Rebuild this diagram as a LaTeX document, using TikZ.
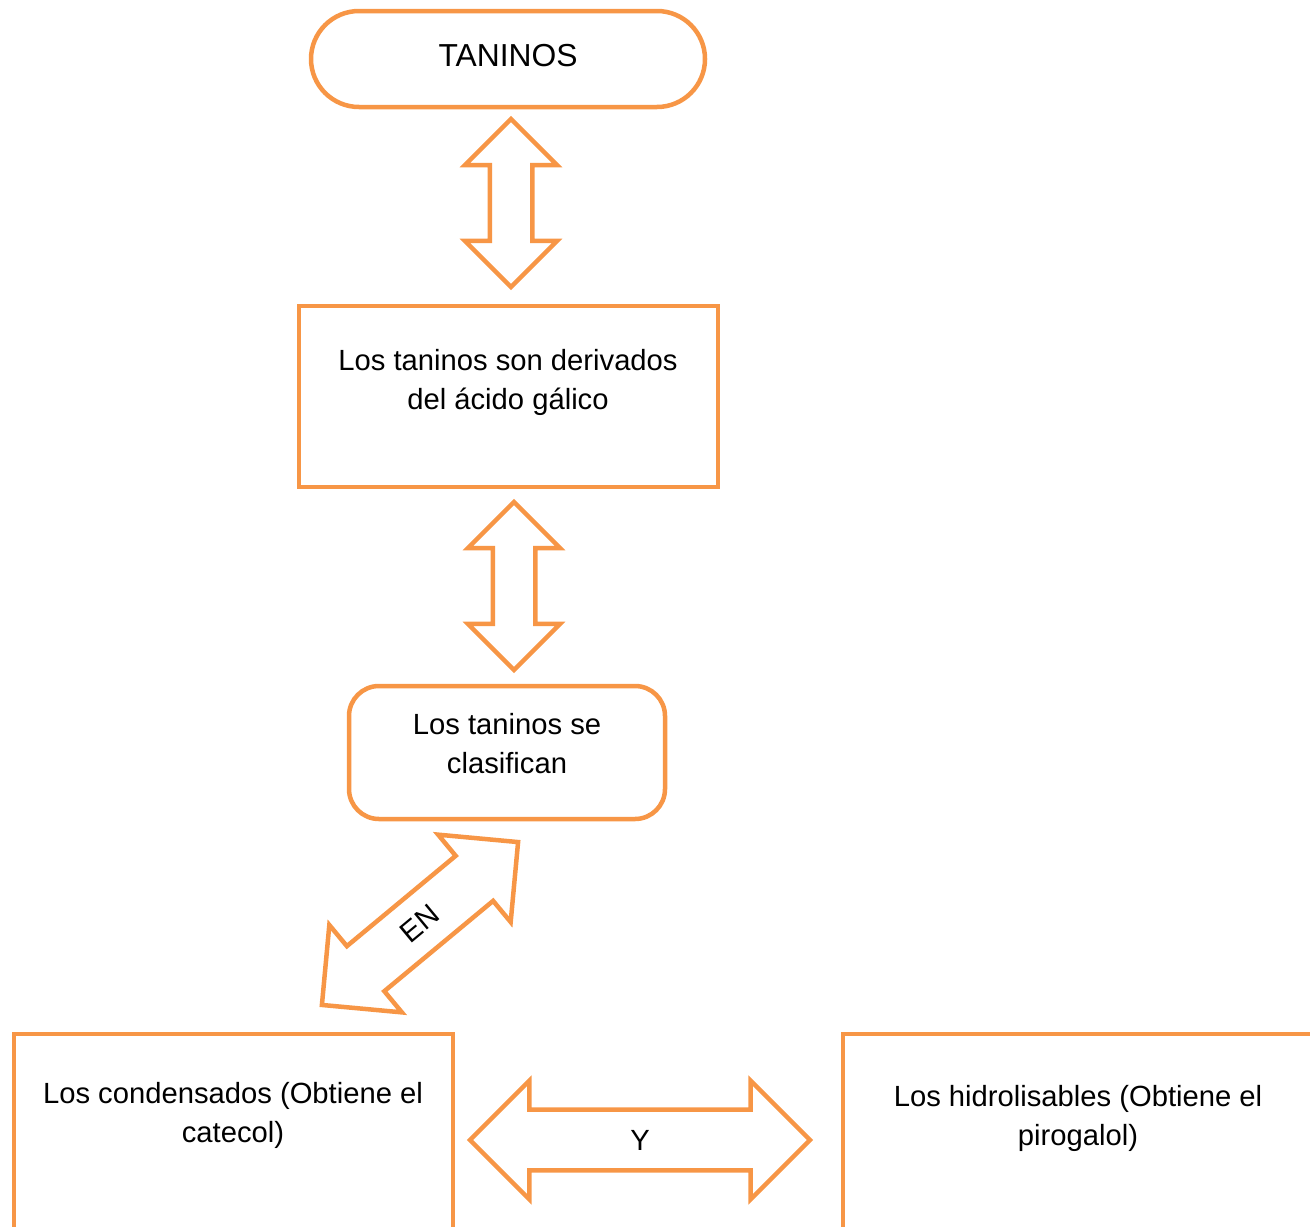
\documentclass[tikz,border=0pt]{standalone}
\usepackage{fontspec}
\setmainfont{Liberation Sans}
\usetikzlibrary{shapes, arrows, positioning, calc}

\definecolor{tanorange}{HTML}{F79646}

\begin{document}
\begin{tikzpicture}[x=0.5pt, y=-0.5pt,
    every node/.style={font=\fontsize{14.6}{19.5}\selectfont},
    box/.style={draw=tanorange, line width=2.25pt, fill=white, inner sep=0pt},
    txt/.style={align=center, inner sep=0pt},
    dblarrow/.style={double arrow, double arrow tip angle=90, draw=tanorange,
        line width=2.25pt, fill=white, inner xsep=0pt, double arrow head extend=#1}
  ]
    \clip (0,0) rectangle (1310,1226);

    % Boxes
    \node[box, rounded corners=24pt, minimum width=197pt, minimum height=48pt] (taninos) at (508,59) {};
    \node[txt, font=\fontsize{15.9}{19.5}\selectfont] (taninostxt) at (508,56) {TANINOS};

    \node[box, minimum width=209.5pt, minimum height=90.5pt] (deriv) at (508.5,396.5) {};
    \node[txt] (derivtxt) at (508,382) {Los taninos son derivados\\del ácido gálico};

    \node[box, rounded corners=15pt, minimum width=158pt, minimum height=66.5pt] (clasif) at (507,752.5) {};
    \node[txt] (clasiftxt) at (507,743.5) {Los taninos se\\clasifican};

    \node[box, minimum width=219.5pt, minimum height=115pt] (condens) at (233.5,1149) {};
    \node[txt] (condenstxt) at (233,1115) {Los condensados (Obtiene el\\catecol)};

    \node[box, minimum width=235pt, minimum height=115pt] (hidro) at (1078,1149) {};
    \node[txt] (hidrotxt) at (1078,1118) {Los hidrolisables (Obtiene el\\pirogalol)};

    % Block arrows (shaft width set by inner ysep)
    \node[dblarrow=12.4pt, inner ysep=9.5pt, minimum height=84pt, rotate=90] (arrA) at (511,203) {};
    \node[dblarrow=12.4pt, inner ysep=9.5pt, minimum height=84pt, rotate=90] (arrB) at (514,586) {};
    \node[dblarrow=13.75pt, inner ysep=8.5pt, minimum height=127.5pt, minimum width=55pt, rotate=39.7] (arrEN) at (420,923.5) {EN};
    \node[dblarrow=14.5pt, inner ysep=9pt, minimum height=170pt, minimum width=57.5pt] (arrY) at (640,1140) {Y};
\end{tikzpicture}
\end{document}
